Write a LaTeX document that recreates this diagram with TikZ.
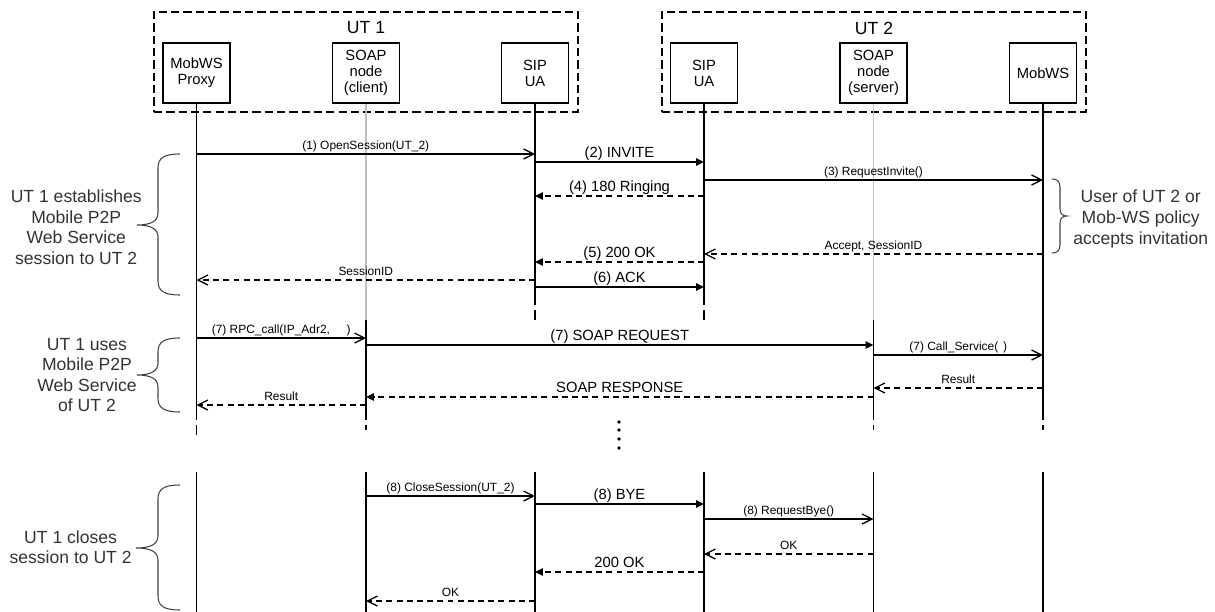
\documentclass[tikz,border=0pt]{standalone}
\usepackage{fontspec}
\setmainfont{Liberation Sans}
\usetikzlibrary{arrows.meta}

\newcommand\notefont{\fontsize{10}{11.7}\selectfont}
\newcommand\nodefont{\fontsize{8.4}{9.1}\selectfont}
\newcommand\bigmsgfont{\fontsize{8.4}{10}\selectfont}
\newcommand\smallmsgfont{\fontsize{6.8}{8}\selectfont}

\begin{document}
\begin{tikzpicture}[x=0.02cm, y=-0.02cm,
  every node/.style={inner sep=0pt},
  box/.style={draw, line width=0.6pt, minimum width=1.34cm, minimum height=1.2cm, align=center, font=\nodefont},
  grp/.style={draw, line width=0.7pt, dash pattern=on 4.7pt off 2.3pt, minimum width=8.48cm, minimum height=2cm},
  utname/.style={font=\notefont},
  note/.style={font=\notefont, align=center, text=black!80},
  life/.style={line width=0.6pt},
  idle/.style={line width=0.6pt, black!25},
  tailline/.style={line width=0.6pt, dash pattern=on 5.7pt off 2.8pt},
  brc/.style={line width=0.6pt, black!75},
  call/.style={line width=0.75pt, -{Straight Barb[length=5.7pt, width=5.7pt]}},
  sig/.style={line width=0.75pt, -{Triangle[length=4.5pt, width=4.2pt]}},
  back/.style={dash pattern=on 3.4pt off 2.4pt},
  msgtag/.style={midway, above, font=\smallmsgfont, text height=.72em, text depth=.21em},
  msgbig/.style={midway, above, font=\bigmsgfont, text height=.72em, text depth=.21em},
]
  \useasboundingbox (0,0) rectangle (1215,612);
  % ============= terminals =============
  \node[grp] (ut1) at (366,62) {};
  \node[grp] (ut2) at (874,62) {};
  \node[utname] (ut1name) at (366,28) {UT 1};
  \node[utname] (ut2name) at (874,28) {UT 2};
  \node[box] (proxy)      at (196.5,73) {MobWS\\Proxy};
  \node[box] (clientsoap) at (366,73)   {SOAP\\node\\(client)};
  \node[box] (sipa)       at (535,73)   {SIP\\UA};
  \node[box] (sipb)       at (704,73)   {SIP\\UA};
  \node[box] (serversoap) at (873.5,73) {SOAP\\node\\(server)};
  \node[box] (mobws)      at (1043,73)  {MobWS};
  % ============= lifelines =============
  \draw[life]     (proxy.south) -- (proxy |- 0,410);
  \draw[tailline] (proxy |- 0,410) -- (proxy |- 0,437);
  \draw[idle]     (clientsoap.south) -- (clientsoap |- 0,320);
  \draw[life]     (clientsoap |- 0,320) -- (clientsoap |- 0,410);
  \draw[tailline] (clientsoap |- 0,410) -- (clientsoap |- 0,430);
  \draw[life]     (sipa.south) -- (sipa |- 0,295);
  \draw[tailline] (sipa |- 0,295) -- (sipa |- 0,322);
  \draw[life]     (sipb.south) -- (sipb |- 0,295);
  \draw[tailline] (sipb |- 0,295) -- (sipb |- 0,322);
  \draw[idle]     (serversoap.south) -- (serversoap |- 0,320);
  \draw[life]     (serversoap |- 0,320) -- (serversoap |- 0,410);
  \draw[tailline] (serversoap |- 0,410) -- (serversoap |- 0,430);
  \draw[life]     (mobws.south) -- (mobws |- 0,410);
  \draw[tailline] (mobws |- 0,410) -- (mobws |- 0,430);
  % --- after the pause ---
  \foreach \n in {proxy,clientsoap,sipa,sipb,serversoap,mobws}
    \draw[life] (\n |- 0,472) -- (\n |- 0,612);
  \foreach \y in {422,430,439,448}
    \fill (619,\y) circle (1.1pt);
  % ============= session set-up =============
  \draw[call] (proxy |- 0,154) -- (sipa |- 0,154) node[msgtag] {(1) OpenSession(UT\_2)};
  \draw[sig]  (sipa |- 0,162) -- (sipb |- 0,162) node[msgbig] {(2) INVITE};
  \draw[call] (sipb |- 0,180) -- (mobws |- 0,180) node[msgtag] {(3) RequestInvite()};
  \draw[sig, back] (sipb |- 0,196) -- (sipa |- 0,196) node[msgbig] {(4) 180 Ringing};
  \draw[call, back] (mobws |- 0,254) -- (sipb |- 0,254) node[msgtag] {Accept, SessionID};
  \draw[sig, back] (sipb |- 0,262) -- (sipa |- 0,262) node[msgbig] {(5) 200 OK};
  \draw[call, back] (sipa |- 0,280) -- (proxy |- 0,280) node[msgtag] {SessionID};
  \draw[sig]  (sipa |- 0,287) -- (sipb |- 0,287) node[msgbig] {(6) ACK};
  % ============= service call =============
  \draw[call] (proxy |- 0,338) -- (clientsoap |- 0,338) node[msgtag] {(7) RPC\_call(IP\_Adr2,\hspace{1.4em})};
  \draw[sig]  (clientsoap |- 0,345) -- (serversoap |- 0,345) node[msgbig] {(7) SOAP REQUEST};
  \draw[call] (serversoap |- 0,355) -- (mobws |- 0,355) node[msgtag] {(7) Call\_Service(\hspace{0.4em})};
  \draw[call, back] (mobws |- 0,388) -- (serversoap |- 0,388) node[msgtag] {Result};
  \draw[sig, back] (serversoap |- 0,397) -- (clientsoap |- 0,397) node[msgbig] {SOAP RESPONSE};
  \draw[call, back] (clientsoap |- 0,405) -- (proxy |- 0,405) node[msgtag] {Result};
  % ============= session close =============
  \draw[call] (clientsoap |- 0,496) -- (sipa |- 0,496) node[msgtag] {(8) CloseSession(UT\_2)};
  \draw[sig]  (sipa |- 0,504) -- (sipb |- 0,504) node[msgbig] {(8) BYE};
  \draw[call] (sipb |- 0,519) -- (serversoap |- 0,519) node[msgtag] {(8) RequestBye()};
  \draw[call, back] (serversoap |- 0,554) -- (sipb |- 0,554) node[msgtag] {OK};
  \draw[sig, back] (sipb |- 0,572) -- (sipa |- 0,572) node[msgbig] {200 OK};
  \draw[call, back] (sipa |- 0,601) -- (clientsoap |- 0,601) node[msgtag] {OK};
  % ============= braces and notes =============
  \draw[brc] (180,154) .. controls (164,154) and (158,158) .. (158,168)
    -- (158,213) .. controls (158,221) and (151,225) .. (137,225)
    .. controls (151,225) and (158,229) .. (158,237)
    -- (158,281) .. controls (158,291) and (164,295) .. (180,295);
  \node[note, anchor=east] (setupnote) at (142,227)
    {UT 1 establishes\\Mobile P2P\\Web Service\\session to UT 2};
  \draw[brc] (180,338) .. controls (164,338) and (158,342) .. (158,352)
    -- (158,363) .. controls (158,371) and (151,375) .. (137,375)
    .. controls (151,375) and (158,379) .. (158,387)
    -- (158,398) .. controls (158,408) and (164,412) .. (180,412);
  \node[note, anchor=east] (usenote) at (137,375)
    {UT 1 uses\\Mobile P2P\\Web Service\\of UT 2};
  \draw[brc] (180,485) .. controls (164,485) and (158,489) .. (158,499)
    -- (158,536) .. controls (158,544) and (151,548) .. (136,548)
    .. controls (151,548) and (158,552) .. (158,560)
    -- (158,596) .. controls (158,606) and (164,610) .. (180,610);
  \node[note, anchor=east] (closenote) at (132,547)
    {UT 1 closes\\session to UT 2};
  \draw[brc] (1052,179) .. controls (1057,179) and (1060,181) .. (1060,187)
    -- (1060,209) .. controls (1060,214) and (1063,216) .. (1067,216)
    .. controls (1063,216) and (1060,218) .. (1060,223)
    -- (1060,245) .. controls (1060,251) and (1057,253) .. (1052,253);
  \node[note, anchor=west] (acceptnote) at (1073,219)
    {User of UT 2 or\\Mob-WS policy\\accepts invitation};
\end{tikzpicture}
\end{document}
